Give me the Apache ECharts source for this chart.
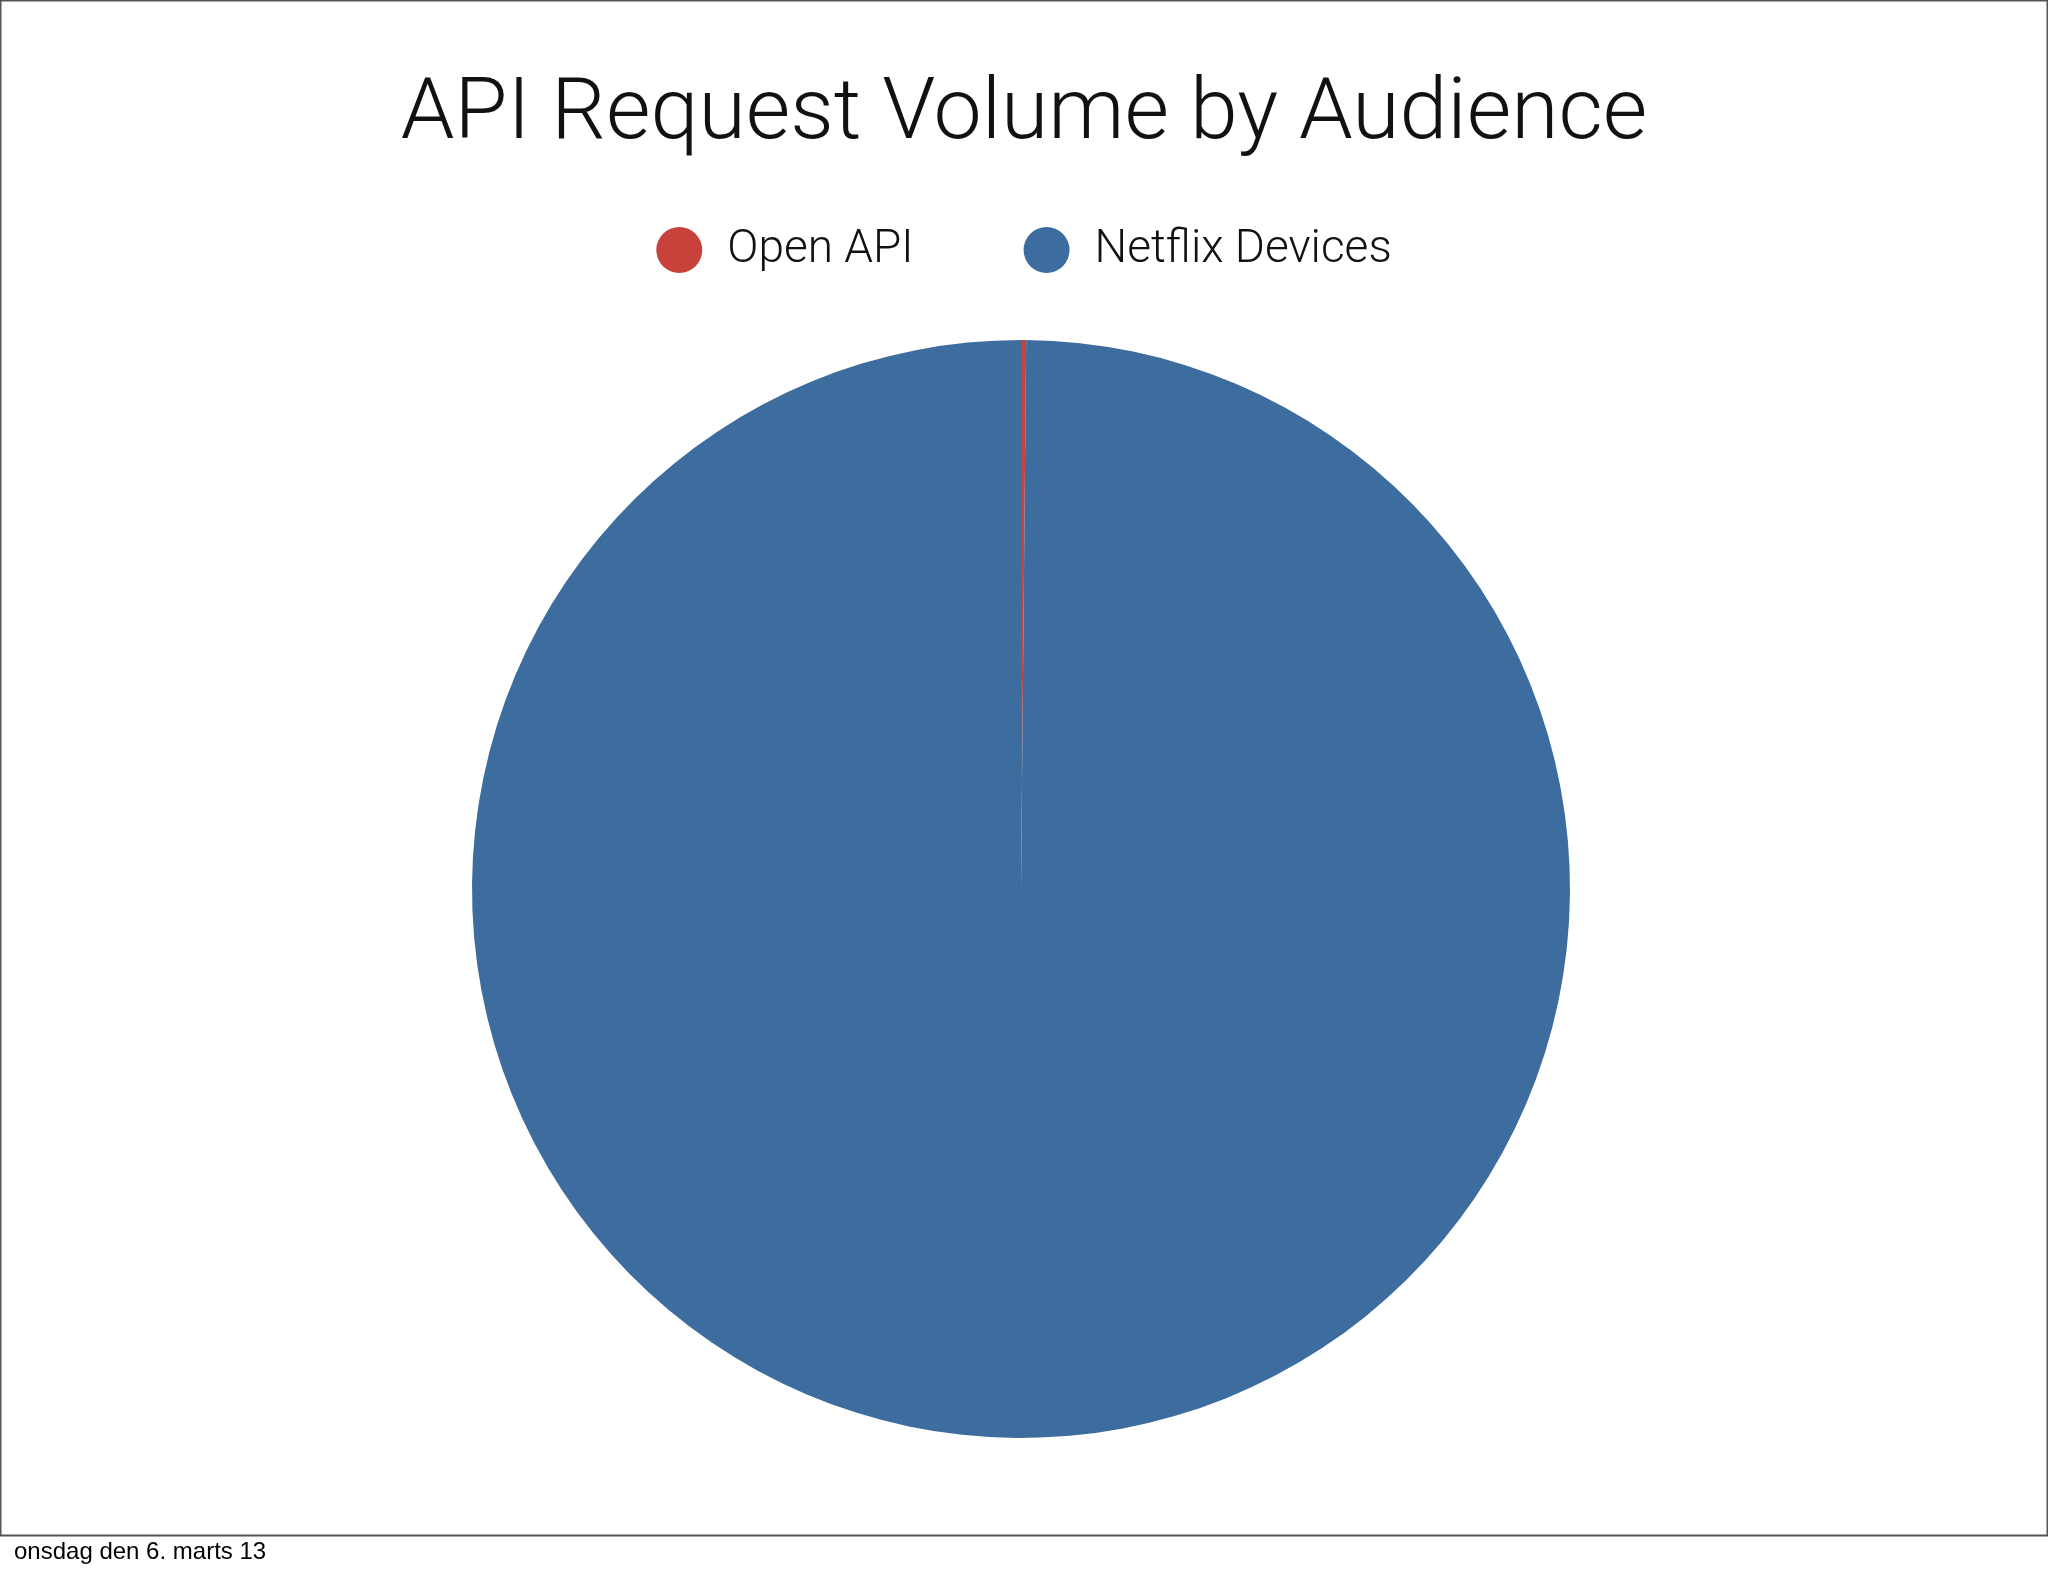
<!DOCTYPE html>
<html><head><meta charset="utf-8">
<script src="https://cdn.jsdelivr.net/npm/echarts@6/dist/echarts.min.js"></script>
<style>html,body{margin:0;padding:0;background:#fff}#c{width:2048px;height:1576px}</style>
</head><body><div id="c"></div>
<script>
const categories = ["Open API", "Netflix Devices"];
const values = [0.15, 99.85];
const colors = ["#c8423b", "#3d6c9e"];
const chart = echarts.init(document.getElementById('c'));
chart.setOption({
  backgroundColor: '#fff',
  animation: false,
  title: {text: 'API Request Volume by Audience', left: 'center', top: 68,
    textStyle: {fontFamily: 'Roboto', fontWeight: 300, fontSize: 86, color: '#111'}},
  legend: {data: categories, top: 222, left: 'center', icon: 'circle', itemWidth: 46, itemHeight: 46, itemGap: 110,
    textStyle: {fontFamily: 'Roboto', fontWeight: 300, fontSize: 46, color: '#111', padding: [0,0,0,20]}},
  graphic: [
    {type: 'rect', shape: {x: 0.5, y: 0.5, width: 2047, height: 1535}, style: {fill: 'none', stroke: '#555', lineWidth: 2}},
    {type: 'text', left: 14, top: 1540, style: {text: 'onsdag den 6. marts 13', font: '24px "Liberation Sans"', fill: '#000'}}
  ],
  series: [{
    type: 'pie', center: [1021, 889], radius: 549, startAngle: 90, clockwise: true,
    label: {show: false}, labelLine: {show: false}, emphasis: {disabled: true},
    data: categories.map((n, i) => ({name: n, value: values[i], itemStyle: {color: colors[i]}}))
  }]
});
</script></body></html>
